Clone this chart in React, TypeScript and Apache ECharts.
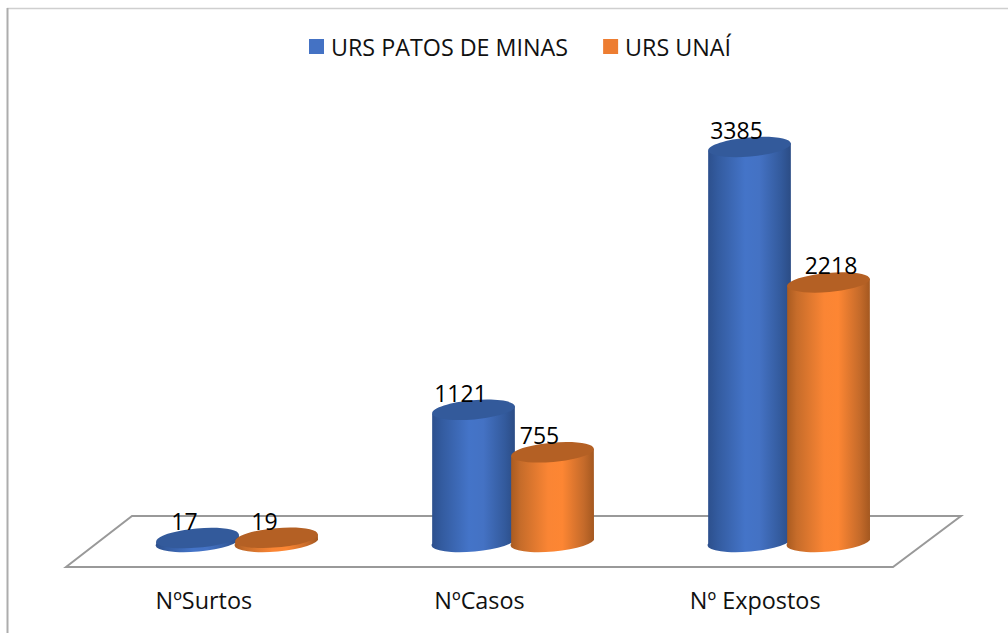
import React, { useEffect, useRef } from "react";
import * as echarts from "echarts";

const categories = ["NºSurtos", "NºCasos", "Nº Expostos"];
const patosDeMinas = [17, 1121, 3385];
const unai = [19, 755, 2218];

const FONT = "'Open Sans', sans-serif";
const RX = 41.5;
const RY = 9.6;
const TILT = 5;
const BAND = 79;

const blueGrad = [
  [0, "#2c4f8c"],
  [0.12, "#335b9f"],
  [0.45, "#4474c8"],
  [0.62, "#4472c4"],
  [0.88, "#335a9c"],
  [1, "#2b4c85"],
];
const orangeGrad = [
  [0, "#a85a20"],
  [0.12, "#c66c2a"],
  [0.45, "#fa8534"],
  [0.62, "#fd8633"],
  [0.88, "#c46a2a"],
  [1, "#a45820"],
];

function cylinder(grad: any[], topColor: string, side: number, labelDx: number[]) {
  return (params: any, api: any) => {
    const idx = api.value(0);
    const val = api.value(1);
    const top = api.coord([idx, val]);
    const base = api.coord([idx, 0]);
    const cx = top[0] + side * (BAND / 2);
    const rad = (TILT * Math.PI) / 180;
    const dx = RX * Math.cos(rad);
    const dy = RX * Math.sin(rad);
    const ty = top[1];
    const by = base[1];
    const body =
      `M${cx - dx} ${ty + dy}` +
      `L${cx - dx} ${by + dy}` +
      `A${RX} ${RY} ${-TILT} 0 0 ${cx + dx} ${by - dy}` +
      `L${cx + dx} ${ty - dy}Z`;
    return {
      type: "group",
      children: [
        {
          type: "path",
          shape: { pathData: body },
          style: {
            fill: new echarts.graphic.LinearGradient(
              0, 0, 1, 0,
              grad.map(([offset, color]) => ({ offset, color }))
            ),
          },
        },
        {
          type: "ellipse",
          x: cx,
          y: ty,
          rotation: rad,
          shape: { cx: 0, cy: 0, rx: RX, ry: RY },
          style: { fill: topColor },
        },
        {
          type: "text",
          x: cx + labelDx[idx],
          y: ty - 17,
          style: {
            text: String(val),
            fill: "#000",
            font: `23px ${FONT}`,
            textAlign: "center",
            textVerticalAlign: "middle",
          },
        },
      ],
    };
  };
}

export default function App() {
  const ref = useRef<HTMLDivElement>(null);
  useEffect(() => {
    document.body.style.margin = "0";
    const chart = echarts.init(ref.current!, undefined, { renderer: "svg" });
    chart.setOption({
      animation: false,
      backgroundColor: "#fff",
      legend: {
        left: 309,
        top: 35,
        padding: 0,
        icon: "rect",
        itemWidth: 15,
        itemHeight: 15,
        itemGap: 35,
        textStyle: { fontFamily: FONT, fontSize: 23.3, color: "#111", padding: [0, 0, 0, 2] },
        data: [
          { name: "URS PATOS DE MINAS", itemStyle: { color: "#4472c4" } },
          { name: "URS UNAÍ", itemStyle: { color: "#ed7d31" } },
        ],
      },
      grid: [
        { left: 66, right: 115, top: 100, bottom: 66 },
        { left: 99, right: 81, top: 133.6, bottom: 93 },
      ],
      xAxis: [
        {
          type: "category",
          gridIndex: 0,
          data: categories,
          axisLine: { show: false },
          axisTick: { show: false },
          axisLabel: { fontFamily: FONT, fontSize: 23.4, color: "#111", margin: 21 },
        },
        { type: "category", gridIndex: 1, data: categories, show: false },
      ],
      yAxis: [
        { type: "value", gridIndex: 0, show: false, min: 0, max: 3500 },
        { type: "value", gridIndex: 1, show: false, min: 0, max: 3500 },
      ],
      graphic: [
        {
          type: "line",
          silent: true,
          z: -10,
          shape: { x1: 7, y1: 8.5, x2: 1008, y2: 8.5 },
          style: { stroke: "#cfcfcf", lineWidth: 1.5 },
        },
        {
          type: "line",
          silent: true,
          z: -10,
          shape: { x1: 7.5, y1: 8, x2: 7.5, y2: 633 },
          style: { stroke: "#adadad", lineWidth: 2 },
        },
        {
          type: "polygon",
          silent: true,
          z: -5,
          shape: { points: [[66, 567], [132, 516], [961, 516], [893, 567]] },
          style: { fill: "#fff", stroke: "#999", lineWidth: 2 },
        },
      ],
      series: [
        {
          name: "URS PATOS DE MINAS",
          type: "custom",
          xAxisIndex: 1,
          yAxisIndex: 1,
          clip: false,
          itemStyle: { color: "#4472c4" },
          encode: { x: 0, y: 1 },
          data: patosDeMinas.map((v, i) => [i, v]),
          renderItem: cylinder(blueGrad, "#335a9b", -1, [-13, -13, -13]),
        },
        {
          name: "URS UNAÍ",
          type: "custom",
          xAxisIndex: 1,
          yAxisIndex: 1,
          clip: false,
          itemStyle: { color: "#ed7d31" },
          encode: { x: 0, y: 1 },
          data: unai.map((v, i) => [i, v]),
          renderItem: cylinder(orangeGrad, "#b46024", 1, [-12, -13, 2.5]),
        },
      ],
    });
    return () => chart.dispose();
  }, []);
  return <div ref={ref} style={{ width: 1008, height: 633 }} />;
}
